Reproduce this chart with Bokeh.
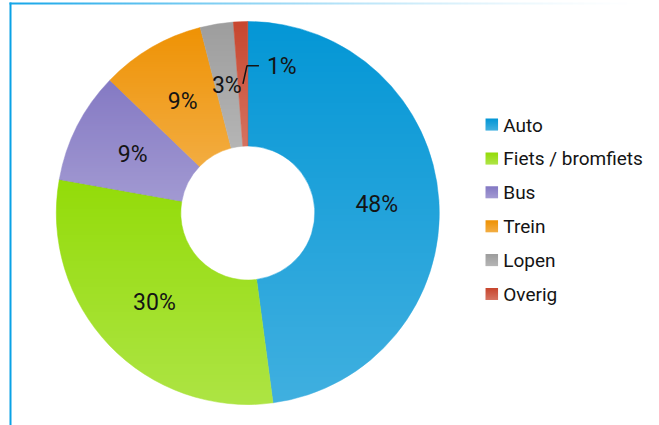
import numpy as np
from bokeh.plotting import figure
from bokeh.models import Range1d
from bokeh.core.properties import value
from bokeh.embed import file_html
from bokeh.resources import INLINE

# ---- data ----
categories = ["Auto", "Fiets / bromfiets", "Bus", "Trein", "Lopen", "Overig"]
shares = [47.9, 29.9, 9.4, 8.8, 2.8, 1.2]
labels = ["48%", "30%", "9%", "9%", "3%", "1%"]
colors = ["#0597d6", "#94dc0a", "#857ac4", "#ef9306", "#9e9e9e", "#c8472f"]

# ---- layout (image pixel coordinates: data x = X, data y = 425 - Y) ----
W, H = 659, 425
X0, Y0 = 0, 0
FONT = "Roboto"


def yy(Y):
    return 425 - Y


p = figure(width=W, height=H,
           x_range=Range1d(X0, X0 + W), y_range=Range1d(yy(Y0 + H), yy(Y0)),
           output_backend="svg", toolbar_location=None, min_border=0,
           x_axis_location=None, y_axis_location=None,
           outline_line_color=None, background_fill_color="white",
           border_fill_color="white")
p.grid.visible = False

cx, cy = 247.3, yy(212.5)
r_out, r_in = 191.5, 67.0

vals = np.array(shares, dtype=float)
total = vals.sum()
cum = np.cumsum(vals)
prev = cum - vals
start = np.radians(90 - 360 * prev / total)
end = np.radians(90 - 360 * cum / total)

p.annular_wedge(x=cx, y=cy, inner_radius=r_in, outer_radius=r_out,
                start_angle=start, end_angle=end, direction="clock",
                fill_color=colors, line_color=colors, line_width=0.5)

# ---- per-slice vertical white sheen (lighter at the bottom) ----
N = int(round(2 * r_out))
bx0, by0 = cx - r_out, cy - r_out
xs = bx0 + np.arange(N) + 0.5
ys = by0 + np.arange(N) + 0.5
XX, YY = np.meshgrid(xs, ys)
dx, dy = XX - cx, YY - cy
rr = np.hypot(dx, dy)
theta = np.degrees(np.arctan2(dx, dy)) % 360
frac = theta / 360 * total
idx = np.clip(np.searchsorted(cum, frac, side="right"), 0, len(vals) - 1)
alpha = np.zeros_like(XX)
amax = 0.24
for i in range(len(vals)):
    t = np.linspace(360 * prev[i] / total, 360 * cum[i] / total, 200)
    tr = np.radians(t)
    py = np.concatenate([cy + r_out * np.cos(tr), cy + r_in * np.cos(tr)])
    ytop, ybot = py.max(), py.min()
    m = idx == i
    alpha[m] = amax * (ytop - YY[m]) / (ytop - ybot)
alpha = np.clip(alpha, 0, 1)
alpha[(rr < r_in - 2) | (rr > r_out + 2)] = 0
img = np.zeros((N, N), dtype=np.uint32)
v = img.view(dtype=np.uint8).reshape((N, N, 4))
v[..., 0] = 255
v[..., 1] = 255
v[..., 2] = 255
v[..., 3] = (alpha * 255).astype(np.uint8)
p.image_rgba(image=[img], x=bx0, y=by0, dw=N, dh=N)

# ---- slice labels ----
r_mid = (r_out + r_in) / 2
mid = np.radians(360 * (prev + vals / 2) / total)
lx = cx + r_mid * np.sin(mid)
ly = cy + r_mid * np.cos(mid)
n_in = len(vals) - 1
p.text(x=lx[:n_in], y=ly[:n_in], text=labels[:n_in],
       text_font=value(FONT), text_font_size="23px", text_color="#141414",
       text_align="center", text_baseline="middle")
# small slice: label outside with leader line
k = n_in
lead_x = [lx[k], lx[k] + 4, lx[k] + 16]
lead_y = [ly[k], ly[k] + 18, ly[k] + 18]
p.line(x=lead_x, y=lead_y, line_color="#141414", line_width=1.5)
p.text(x=[lead_x[-1] + 8], y=[lead_y[-1] - 1], text=[labels[k]],
       text_font=value(FONT), text_font_size="23px", text_color="#141414",
       text_align="left", text_baseline="middle")

# ---- legend ----
leg_x, leg_y0, leg_dy = 491.3, 124.0, 33.9
ly_leg = [yy(leg_y0 + i * leg_dy) for i in range(len(categories))]
p.rect(x=leg_x, y=ly_leg, width=12.5, height=12, fill_color=colors,
       line_color=None)
sq = np.zeros((12, 12), dtype=np.uint32)
sv = sq.view(dtype=np.uint8).reshape((12, 12, 4))
sv[..., :3] = 255
sv[..., 3] = (np.linspace(amax, 0, 12)[:, None] * 255 * np.ones((1, 12))).astype(np.uint8)
p.image_rgba(image=[sq] * len(categories), x=leg_x - 6.25,
             y=[v_ - 6 for v_ in ly_leg], dw=12.5, dh=12)
p.text(x=leg_x + 11.5, y=[v_ - 0.5 for v_ in ly_leg], text=categories,
       text_font=value(FONT), text_font_size="19px", text_color="#141414",
       text_align="left", text_baseline="middle")

# ---- frame lines ----
p.segment(x0=[10], y0=[yy(425)], x1=[10], y1=[yy(2)],
          line_color="#0aa2e6", line_width=2)
L = 650
bar = np.zeros((1, L), dtype=np.uint32)
bv = bar.view(dtype=np.uint8).reshape((1, L, 4))
bv[..., 0] = 20
bv[..., 1] = 165
bv[..., 2] = 232
tt = np.linspace(0, 1, L)
bv[..., 3] = (255 * np.clip(1 - tt, 0, 1) ** 1.6).astype(np.uint8)
p.image_rgba(image=[bar], x=9, y=yy(4), dw=L, dh=2)

open("out.html", "w").write(file_html(p, INLINE))
